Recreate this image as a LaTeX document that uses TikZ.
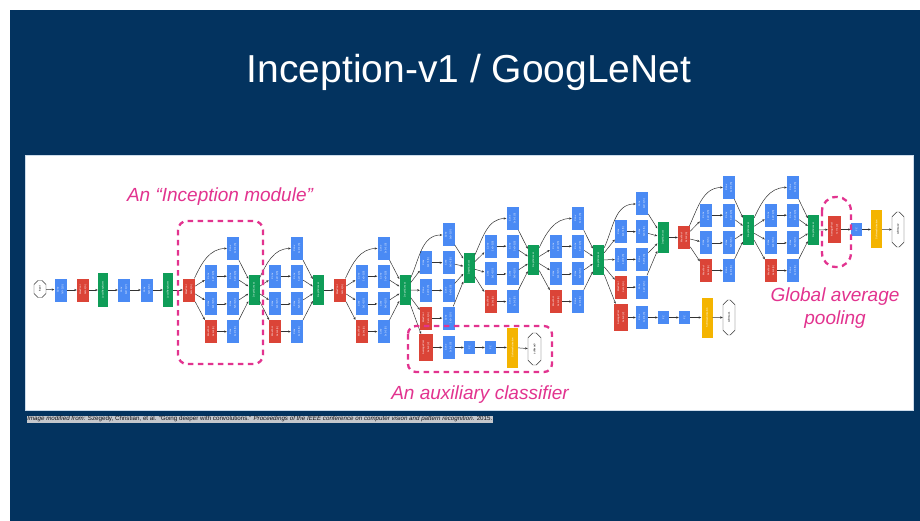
\documentclass[tikz,border=0pt]{standalone}
\usepackage{fontspec}
\setmainfont{Liberation Sans}
\usetikzlibrary{arrows.meta,shapes.misc}
\definecolor{slide}{HTML}{03335F}
\definecolor{gblue}{HTML}{4A8AF4}
\definecolor{gred}{HTML}{DB4437}
\definecolor{ggreen}{HTML}{0F9D58}
\definecolor{gyellow}{HTML}{F4B400}
\definecolor{pinkc}{HTML}{E2338F}
\definecolor{capbg}{HTML}{C4C7CC}
\newcommand{\twol}[2]{\rotatebox{90}{\shortstack{#1\\#2}}}
\newcommand{\onel}[1]{\rotatebox{90}{#1}}
% name, input node, xA, xB, xConcat, yTopRow, yConcat
\newcommand{\incmod}[7]{%
  \node[conv] (#1b1) at (#4,#6) {\twol{Conv}{1x1+1(S)}};
  \node[conv] (#1a1) at (#3,#6+27.7) {\twol{Conv}{1x1+1(S)}};
  \node[conv] (#1b2) at (#4,#6+27.7) {\twol{Conv}{3x3+1(S)}};
  \node[conv] (#1a2) at (#3,#6+55.4) {\twol{Conv}{1x1+1(S)}};
  \node[conv] (#1b3) at (#4,#6+55.4) {\twol{Conv}{5x5+1(S)}};
  \node[pool] (#1a3) at (#3,#6+83.1) {\twol{MaxPool}{3x3+1(S)}};
  \node[conv] (#1b4) at (#4,#6+83.1) {\twol{Conv}{1x1+1(S)}};
  \node[cat] (#1cat) at (#5,#7) {\onel{DepthConcat}};
  \draw[arr] (#2) to[out=65,in=180] (#1b1);
  \draw[arr] (#2) -- (#1a1);
  \draw[arr] (#2) -- (#1a2);
  \draw[arr] (#2) -- (#1a3);
  \draw[arr] (#1a1) -- (#1b2);
  \draw[arr] (#1a2) -- (#1b3);
  \draw[arr] (#1a3) -- (#1b4);
  \draw[arr] (#1b1) -- (#1cat);
  \draw[arr] (#1b2) -- (#1cat);
  \draw[arr] (#1b3) -- (#1cat);
  \draw[arr] (#1b4) -- (#1cat);
}
\tikzset{
  blk/.style={rectangle, inner sep=0pt, text=white, font=\fontsize{2.4}{2.8}\selectfont},
  conv/.style={blk, fill=gblue, minimum width=12pt, minimum height=23pt},
  pool/.style={blk, fill=gred, minimum width=12pt, minimum height=23pt},
  apool/.style={blk, fill=gred, minimum width=14pt, minimum height=27pt},
  lrn/.style={blk, fill=ggreen, minimum width=10pt, minimum height=34pt},
  cat/.style={blk, fill=ggreen, minimum width=11pt, minimum height=30pt},
  fc/.style={blk, fill=gblue, minimum width=11pt, minimum height=13pt},
  smx/.style={blk, fill=gyellow, minimum width=11pt, minimum height=40pt},
  outp/.style={chamfered rectangle, chamfered rectangle xsep=3.8pt, draw=black!80, fill=white,
    line width=0.45pt, minimum width=13pt, minimum height=32pt, inner sep=0pt, text=black,
    font=\fontsize{2.6}{3}\selectfont},
  arr/.style={-{Stealth[length=2.6pt,width=2.2pt]}, line width=0.5pt, draw=black!80},
  hl/.style={draw=pinkc, line width=2.3pt, dash pattern=on 5.5pt off 4.5pt},
  pinklbl/.style={text=pinkc, font=\fontsize{19}{23}\selectfont\itshape, align=center, inner sep=0pt},
}
\begin{document}
\begin{tikzpicture}[x=1pt,y=-1pt]
\useasboundingbox (0,0) rectangle (920,521);
\fill[white] (0,0) rectangle (920,521);
\fill[slide] (10,10) rectangle (920,521);
\node[text=white, font=\fontsize{39}{44}\selectfont, inner sep=0pt] (title) at (469,72) {Inception-v1 / GoogLeNet};
\filldraw[fill=white, draw={rgb,255:red,205;green,220;blue,235}, line width=0.6pt] (25,155) rectangle (913,410);

% stem
\node[outp, minimum height=17pt, minimum width=12pt, chamfered rectangle xsep=3pt] (in) at (40,289) {\onel{input}};
\node[conv] (c1) at (60.5,290) {\twol{Conv}{7x7+2(S)}};
\node[pool] (p1) at (83,290) {\twol{MaxPool}{3x3+2(S)}};
\node[lrn] (n1) at (103,290) {\onel{LocalRespNorm}};
\node[conv] (c2) at (124,290) {\twol{Conv}{1x1+1(V)}};
\node[conv] (c3) at (147,290) {\twol{Conv}{3x3+1(S)}};
\node[lrn] (n2) at (168,290) {\onel{LocalRespNorm}};
\node[pool] (p2) at (189,290) {\twol{MaxPool}{3x3+2(S)}};
\draw[arr] (in) -- (c1);
\draw[arr] (c1) -- (p1);
\draw[arr] (p1) -- (n1);
\draw[arr] (n1) -- (c2);
\draw[arr] (c2) -- (c3);
\draw[arr] (c3) -- (n2);
\draw[arr] (n2) -- (p2);

\incmod{m3a}{p2}{211}{233}{254}{248.5}{290}
\incmod{m3b}{m3acat}{275}{297}{318.5}{248.5}{290}
\node[pool] (p3) at (340,290) {\twol{MaxPool}{3x3+2(S)}};
\draw[arr] (m3bcat) -- (p3);
\incmod{m4a}{p3}{361.5}{383.5}{405}{248.5}{290}
\incmod{m4b}{m4acat}{426}{448.5}{469}{235}{267.5}
\incmod{m4c}{m4bcat}{490.5}{512.5}{533.5}{218.5}{260}
\incmod{m4d}{m4ccat}{556}{578}{598.5}{218.5}{260}
\incmod{m4e}{m4dcat}{621}{642}{663}{204}{237.5}
\node[pool] (p4) at (684,237.5) {\twol{MaxPool}{3x3+2(S)}};
\draw[arr] (m4ecat) -- (p4);
\incmod{m5a}{p4}{706}{729}{748.5}{187.5}{230}
\incmod{m5b}{m5acat}{771}{793}{813.5}{187.5}{230}

% head
\node[apool, minimum width=13pt] (ap) at (834.5,229.5) {\twol{AveragePool}{7x7+1(V)}};
\node[fc] (fc) at (856.5,229.5) {\onel{FC}};
\node[smx, minimum height=38pt] (sm) at (876.5,229.5) {\onel{SoftmaxActivation}};
\node[outp, minimum height=35pt, minimum width=12pt] (out2) at (898,229.5) {\onel{softmax2}};
\draw[arr] (m5bcat) -- (ap);
\draw[arr] (ap) -- (fc);
\draw[arr] (fc) -- (sm);
\draw[arr] (sm) -- (out2);

% auxiliary classifier 1
\node[apool] (x1p) at (426,347.5) {\twol{AveragePool}{5x5+3(V)}};
\node[conv] (x1c) at (448.5,347.5) {\twol{Conv}{1x1+1(S)}};
\node[fc] (x1f1) at (469.5,347.5) {\onel{FC}};
\node[fc] (x1f2) at (490.5,347.5) {\onel{FC}};
\node[smx] (x1s) at (512.5,347.5) {\onel{SoftmaxActivation}};
\node[outp] (x1o) at (534.5,349) {\onel{softmax0}};
\draw[arr] (m4acat) -- (x1p);
\draw[arr] (x1p) -- (x1c);
\draw[arr] (x1c) -- (x1f1);
\draw[arr] (x1f1) -- (x1f2);
\draw[arr] (x1f2) -- (x1s);
\draw[arr] (x1s) -- (x1o);

% auxiliary classifier 2
\node[apool] (x2p) at (621,317.5) {\twol{AveragePool}{5x5+3(V)}};
\node[conv] (x2c) at (642,317.5) {\twol{Conv}{1x1+1(S)}};
\node[fc] (x2f1) at (663.5,317.5) {\onel{FC}};
\node[fc] (x2f2) at (684.5,317.5) {\onel{FC}};
\node[smx] (x2s) at (707,317.5) {\onel{SoftmaxActivation}};
\node[outp, minimum height=35pt, minimum width=12pt] (x2o) at (729,317.5) {\onel{softmax1}};
\draw[arr] (m4dcat) -- (x2p);
\draw[arr] (x2p) -- (x2c);
\draw[arr] (x2c) -- (x2f1);
\draw[arr] (x2f1) -- (x2f2);
\draw[arr] (x2f2) -- (x2s);
\draw[arr] (x2s) -- (x2o);

% highlights
\draw[hl, rounded corners=9pt] (178,221) rectangle (263,364);
\draw[hl, rounded corners=8pt] (408,326) rectangle (552,372);
\draw[hl, rounded corners=14pt] (822,197) rectangle (851,267);
\node[pinklbl] (lblinc) at (220,197) {An “Inception module”};
\node[pinklbl] (lblaux) at (480,395) {An auxiliary classifier};
\node[pinklbl] (lblgap) at (835,308.5) {Global average\\pooling};

% caption
\node[anchor=north west, fill=capbg, text={rgb,255:red,20;green,20;blue,25}, inner sep=0.6pt] (cap) at (26.5,415.5)
  {\resizebox{465pt}{!}{\itshape Image modified from: \upshape Szegedy, Christian, et al. “Going deeper with convolutions.” \itshape Proceedings of the IEEE conference on computer vision and pattern recognition\upshape. 2015.}};
\end{tikzpicture}
\end{document}
